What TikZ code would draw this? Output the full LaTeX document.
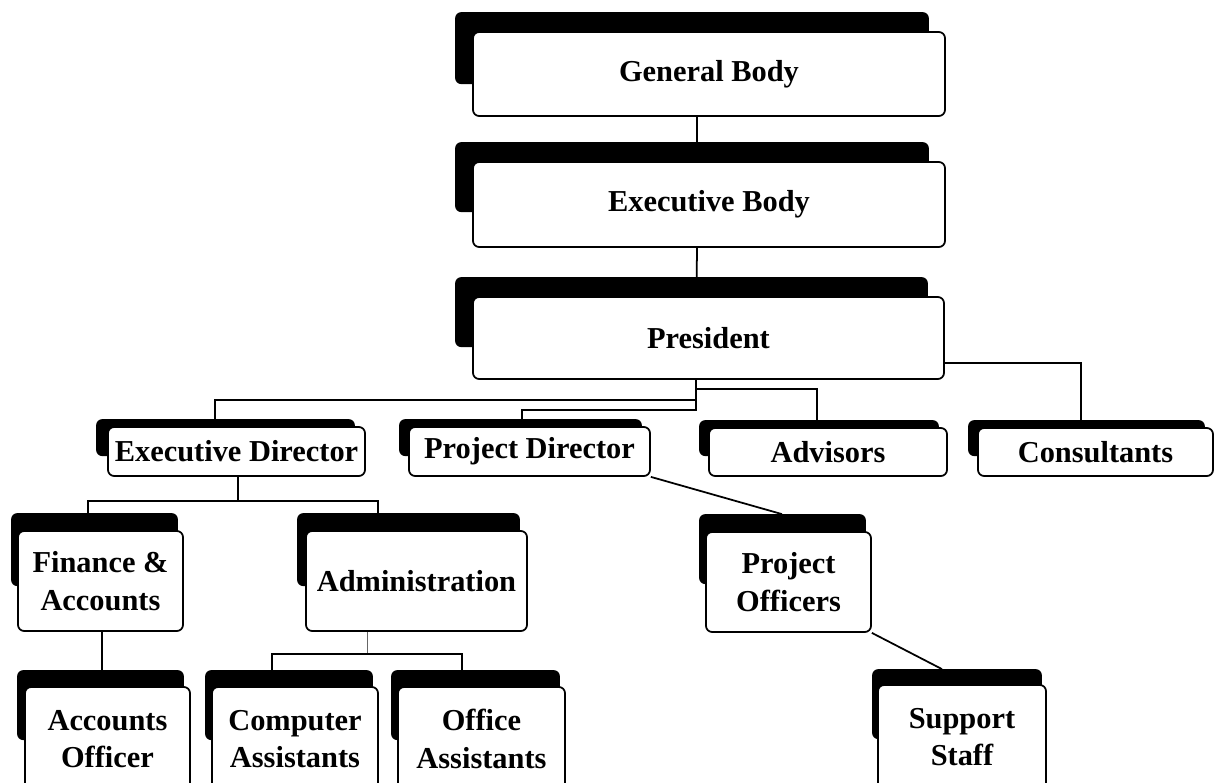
\documentclass[tikz,border=0pt]{standalone}
\usepackage{fontspec}
\setmainfont{Liberation Serif}
\usepackage{tikz}
\usetikzlibrary{calc}

\pgfdeclarelayer{lines}
\pgfdeclarelayer{shadow}
\pgfsetlayers{lines,shadow,main}

\tikzset{
  orgbox/.style={draw, fill=white, line width=1pt, rounded corners=3.5pt, inner sep=0pt,
    align=center, font=\fontsize{17.3}{21.5}\selectfont\bfseries},
  boxsize/.style 2 args={minimum width=#1*0.02cm, minimum height=#2*0.02cm},
  link/.style={line width=1pt}
}

% shadow band above and left of a box: node, left shift, up shift, height
\newcommand{\boxshadow}[4]{%
  \fill[rounded corners=3.5pt] ($(#1.north west)+(-#2,-#3)$) rectangle ($(#1.north east)+(-#2,#4-#3)$);}

\begin{document}
\begin{tikzpicture}[x=0.02cm, y=-0.02cm]
\useasboundingbox (0,0) rectangle (1214,782);
\clip (0,0) rectangle (1214,782);

% Top of the chart
\node[orgbox, boxsize={472}{84}] (gb) at (709,74) {General Body};
\node[orgbox, boxsize={472}{85}] (eb) at (709,204.5) {Executive Body};
\node[orgbox, boxsize={471}{82}] (pres) at (708.5,338) {President};

% Second row
\node[orgbox, boxsize={257}{49}] (exdir) at (236.5,451.5) {Executive Director};
\node[orgbox, boxsize={241}{49}] (projdir) at (529.5,451.5) {Project Director};
\node[orgbox, boxsize={238}{48}] (adv) at (828,452) {Advisors};
\node[orgbox, boxsize={235}{48}] (cons) at (1095.5,452) {Consultants};

% Third row
\node[orgbox, boxsize={165}{100}] (fin) at (100.5,581) {Finance \&\\Accounts};
\node[orgbox, boxsize={221}{100}] (admin) at (416.5,581) {Administration};
\node[orgbox, boxsize={165}{100}] (projoff) at (788.5,582) {Project\\Officers};

% Bottom row
\node[orgbox, boxsize={165}{104}] (accoff) at (107.5,739) {Accounts\\Officer};
\node[orgbox, boxsize={166}{104}] (compass) at (295,739) {Computer\\Assistants};
\node[orgbox, boxsize={167}{104}] (offass) at (481.5,739) {Office\\Assistants};
\node[orgbox, boxsize={168}{104}] (staff) at (962,737) {Support\\Staff};

% Shadows
\begin{pgfonlayer}{shadow}
\boxshadow{gb}{17}{19}{72}
\boxshadow{eb}{17}{19}{70}
\boxshadow{pres}{17}{19}{70}
\boxshadow{exdir}{11}{7}{37}
\boxshadow{projdir}{9}{7}{37}
\boxshadow{adv}{9}{7}{36}
\boxshadow{cons}{9}{7}{36}
\boxshadow{fin}{6}{17}{73}
\boxshadow{admin}{8}{17}{73}
\boxshadow{projoff}{6}{17}{70}
\boxshadow{accoff}{7}{16}{70}
\boxshadow{compass}{6}{16}{70}
\boxshadow{offass}{6}{16}{70}
\boxshadow{staff}{5}{15}{70}
\end{pgfonlayer}

% Connectors
\begin{pgfonlayer}{lines}
\draw[link] ($(gb.south)+(-12,0)$) -- ($(eb.north)+(-12,0)$);
\draw[link] ($(eb.south)+(-12,0)$) -- ($(pres.north)+(-12,0)$);
\draw[link] ($(pres.south)+(-12.5,0)$) -- ++(0,20) -| ($(exdir.north)+(-21.5,0)$);
\draw[link] ($(pres.south)+(-12.5,0)$) -- ++(0,30) -| ($(projdir.north)+(-7.5,0)$);
\draw[link] ($(pres.south)+(-12.5,0)$) -- ++(0,9) -| ($(adv.north)+(-11,0)$);
\draw[link] ($(pres.east)+(0,25)$) -| ($(cons.north)+(-14.5,0)$);
\draw[link] ($(exdir.south)+(1.5,0)$) -- ++(0,24) -| ($(fin.north)+(-12.5,0)$);
\draw[link] ($(exdir.south)+(1.5,0)$) -- ++(0,24) -| ($(admin.north)+(-38.5,0)$);
\draw[link] ($(fin.south)+(1.5,0)$) -- ($(accoff.north)+(-5.5,0)$);
\draw[line width=0.5pt, black!60] ($(admin.south)+(-49.5,0)$) -- ++(0,22);
\draw[link] ($(admin.south)+(-49.5,22)$) -| ($(compass.north)+(-23,0)$);
\draw[link] ($(admin.south)+(-49.5,22)$) -| ($(offass.north)+(-19.5,0)$);
\draw[link] (projdir.south east) -- ($(projoff.north)+(-6.5,-17)$);
\draw[link] (projoff.south east) -- ($(staff.north)+(-20,-15)$);
\end{pgfonlayer}
\end{tikzpicture}
\end{document}
